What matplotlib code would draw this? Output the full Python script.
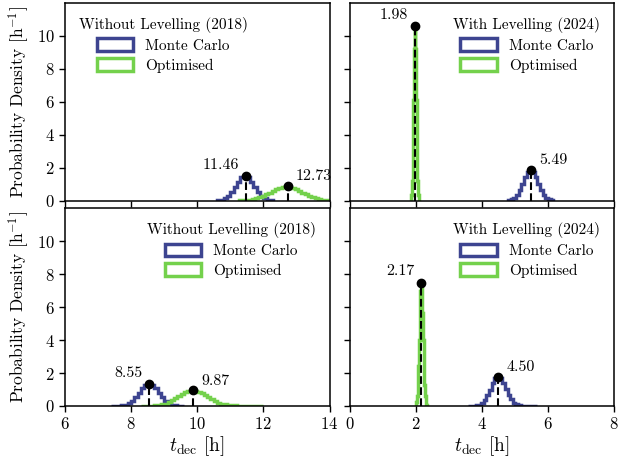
import matplotlib.pyplot as plt
import matplotlib.patches as mpatches
import numpy as np

plt.rcParams['font.family'] = 'cmr10'
plt.rcParams['mathtext.fontset'] = 'cm'
plt.rcParams['axes.formatter.use_mathtext'] = True

BLUE = '#3d4490'
GREEN = '#74d14c'

# histogram data: first bin edge, bin width, densities  [h^-1]
# top-left: without levelling (2018)
tl_mc_start, tl_mc_width = 10.6, 0.1
tl_mc_dens = [0.02, 0.05, 0.13, 0.27, 0.50, 0.81, 1.14, 1.40, 1.50, 1.40,
              1.14, 0.81, 0.50, 0.27, 0.13, 0.05, 0.02]
tl_opt_start, tl_opt_width = 11.25, 0.1
tl_opt_dens = [0.01, 0.02, 0.03, 0.05, 0.08, 0.13, 0.19, 0.27, 0.37, 0.48,
               0.60, 0.70, 0.79, 0.85, 0.87, 0.85, 0.79, 0.70, 0.60, 0.48,
               0.37, 0.27, 0.19, 0.13, 0.08, 0.05, 0.03, 0.02]
tl_mode = [11.46, 12.73]
tl_peak = [1.50, 0.87]

# top-right: with levelling (2024)
tr_mc_start, tr_mc_width = 4.80, 0.08
tr_mc_dens = [0.03, 0.07, 0.17, 0.35, 0.64, 1.02, 1.42, 1.73, 1.85, 1.73,
              1.42, 1.02, 0.64, 0.35, 0.17, 0.07, 0.03]
tr_opt_start, tr_opt_width = 1.85, 0.02
tr_opt_dens = [0.07, 0.33, 1.17, 3.05, 6.1, 9.2, 10.6, 9.2, 6.1, 3.05,
               1.17, 0.33, 0.07]
tr_mode = [5.49, 1.98]
tr_peak = [1.85, 10.6]

# bottom-left: without levelling (2018)
bl_mc_start, bl_mc_width = 7.4, 0.1
bl_mc_dens = [0.002, 0.004, 0.013, 0.03, 0.08, 0.17, 0.32, 0.54, 0.80, 1.07,
              1.27, 1.35, 1.27, 1.07, 0.80, 0.54, 0.32, 0.17, 0.08, 0.03,
              0.013, 0.004]
bl_opt_start, bl_opt_width = 8.3, 0.1
bl_opt_dens = [0.002, 0.004, 0.008, 0.016, 0.03, 0.056, 0.10, 0.15, 0.24, 0.34,
               0.47, 0.60, 0.74, 0.85, 0.92, 0.95, 0.93, 0.87, 0.77, 0.65,
               0.52, 0.40, 0.30, 0.21, 0.15, 0.10, 0.07, 0.045, 0.03, 0.02,
               0.013, 0.009, 0.006, 0.004, 0.003, 0.002, 0.001]
bl_mode = [8.55, 9.87]
bl_peak = [1.35, 0.95]

# bottom-right: with levelling (2024)
br_mc_start, br_mc_width = 3.58, 0.08
br_mc_dens = [0.001, 0.004, 0.011, 0.03, 0.08, 0.18, 0.36, 0.64, 1.00, 1.38,
              1.67, 1.78, 1.68, 1.40, 1.03, 0.68, 0.40, 0.21, 0.10, 0.05,
              0.02, 0.01, 0.006, 0.004, 0.002, 0.001]
br_opt_start, br_opt_width = 1.98, 0.02
br_opt_dens = [0.02, 0.08, 0.23, 0.58, 1.28, 2.4, 3.98, 5.63, 6.98, 7.5,
               6.98, 5.63, 3.98, 2.4, 1.28, 0.58, 0.23, 0.08, 0.02]
br_mode = [4.50, 2.17]
br_peak = [1.78, 7.5]

titles = ['Without Levelling (2018)', 'With Levelling (2024)',
          'Without Levelling (2018)', 'With Levelling (2024)']

fig, axes = plt.subplots(2, 2, figsize=(6.3, 4.59), dpi=100,
                         sharex='col', sharey=True)
fig.subplots_adjust(left=0.1032, right=0.9746, top=0.9935, bottom=0.1155,
                    wspace=0.0756, hspace=0.04)

panels = [
    (axes[0, 0], tl_mc_start, tl_mc_width, tl_mc_dens, tl_opt_start, tl_opt_width, tl_opt_dens, tl_mode, tl_peak),
    (axes[0, 1], tr_mc_start, tr_mc_width, tr_mc_dens, tr_opt_start, tr_opt_width, tr_opt_dens, tr_mode, tr_peak),
    (axes[1, 0], bl_mc_start, bl_mc_width, bl_mc_dens, bl_opt_start, bl_opt_width, bl_opt_dens, bl_mode, bl_peak),
    (axes[1, 1], br_mc_start, br_mc_width, br_mc_dens, br_opt_start, br_opt_width, br_opt_dens, br_mode, br_peak),
]

for i, (ax, ms, mw, md, os_, ow, od, mode, peak) in enumerate(panels):
    me = ms + mw * np.arange(len(md) + 1)
    oe = os_ + ow * np.arange(len(od) + 1)
    ax.stairs(md, me, color=BLUE, lw=2.5)
    ax.stairs(od, oe, color=GREEN, lw=2.5)

    # mark modes; the left-most peak gets its label on the left
    left_idx = int(np.argmin(mode))
    for j in range(2):
        ax.plot([mode[j], mode[j]], [0, peak[j]], color='k', ls='--', lw=1.5, zorder=3)
        ax.plot(mode[j], peak[j], 'o', color='k', ms=6, zorder=4)
        if j == left_idx:
            ax.annotate('%.2f' % mode[j], (mode[j], peak[j]), xytext=(-5, 3),
                        textcoords='offset points', ha='right', va='bottom', fontsize=11.5)
        else:
            ax.annotate('%.2f' % mode[j], (mode[j], peak[j]), xytext=(6, 2),
                        textcoords='offset points', ha='left', va='bottom', fontsize=11.5)

    handles = [mpatches.Patch(facecolor='none', edgecolor=BLUE, lw=2.5, label='Monte Carlo'),
               mpatches.Patch(facecolor='none', edgecolor=GREEN, lw=2.5, label='Optimised')]
    loc = 'upper left' if i == 0 else 'upper right'
    ax.legend(handles=handles, title=titles[i], loc=loc, frameon=False,
              fontsize=11, title_fontsize=11, handlelength=2.4, handleheight=0.9,
              borderaxespad=0.5, labelspacing=0.35)

    ax.tick_params(direction='out', labelsize=12, width=1, length=4)
    for s in ax.spines.values():
        s.set_linewidth(1.1)

axes[0, 0].set_xlim(6, 14)
axes[0, 1].set_xlim(0, 8)
axes[0, 0].set_ylim(0, 12)
axes[0, 0].set_xticks([6, 8, 10, 12, 14])
axes[0, 1].set_xticks([0, 2, 4, 6, 8])
axes[0, 0].set_yticks([0, 2, 4, 6, 8, 10])

for ax in axes[:, 0]:
    ax.set_ylabel('Probability Density [h$^{-1}$]', fontsize=12.5)
for ax in axes[1, :]:
    ax.set_xlabel(r'$t_\mathrm{dec}$ [h]', fontsize=14, labelpad=1)

plt.savefig('out.png', dpi=100)
